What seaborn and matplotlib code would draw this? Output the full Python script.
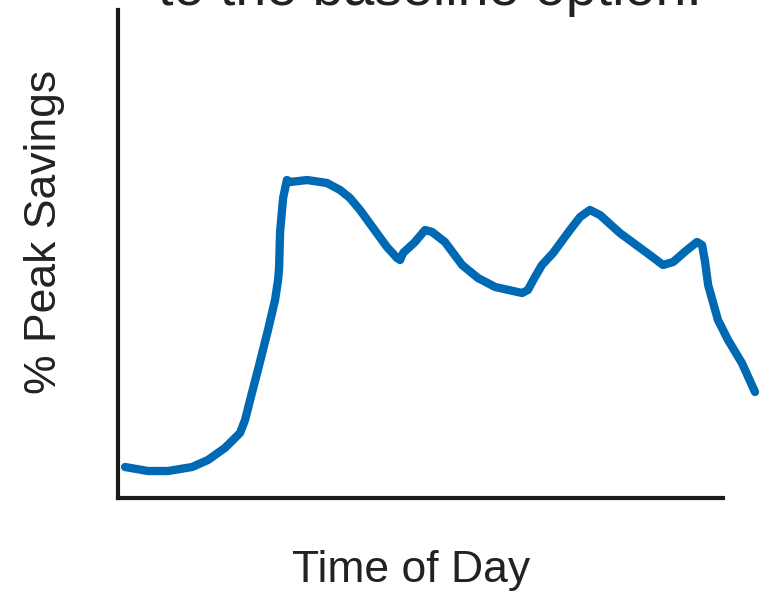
import matplotlib
matplotlib.use("Agg")
import matplotlib.pyplot as plt
import seaborn as sns
import pandas as pd

# Time of day (hours) and % peak savings
hours = [0.28, 1.19, 1.98, 2.94, 3.57, 4.24, 4.84, 5.04, 5.24, 5.55, 5.95, 6.23,
         6.35, 6.39, 6.43, 6.55, 6.70, 6.82, 7.50, 8.29, 8.81, 9.20, 9.60, 10.12,
         10.67, 11.07, 11.19, 11.31, 11.78, 12.18, 12.46, 12.97, 13.65, 14.28,
         14.96, 16.03, 16.26, 16.54, 16.82, 17.26, 17.93, 18.33, 18.72, 19.12,
         19.91, 20.99, 21.62, 22.02, 22.57, 22.97, 23.17, 23.29, 23.41, 23.80,
         24.20, 24.75, 25.27]
savings = [6.35, 5.53, 5.53, 6.35, 7.79, 10.25, 13.32, 15.98, 20.08, 26.23, 34.43,
           40.57, 44.67, 47.13, 54.51, 61.48, 65.16, 64.75, 65.16, 64.55, 63.11,
           61.48, 59.02, 55.33, 51.43, 49.18, 48.77, 50.20, 52.46, 54.92, 54.51,
           52.46, 47.75, 45.08, 43.24, 42.01, 42.62, 45.29, 47.75, 50.20, 54.92,
           57.58, 59.02, 57.99, 54.30, 50.20, 47.75, 48.36, 50.82, 52.46, 51.84,
           48.36, 43.65, 36.48, 32.38, 27.66, 21.72]

title_text = "to the baseline option."
x_label = "Time of Day"
y_label = "% Peak Savings"

df = pd.DataFrame({"hour": hours, "savings": savings})

sns.set_style("white")
plt.rcParams["font.family"] = ["Liberation Sans", "DejaVu Sans"]

fig = plt.figure(figsize=(7.75, 5.93), dpi=100)
ax = fig.add_axes([118 / 775, 1 - 498 / 593, 605 / 775, 488 / 593])

sns.lineplot(data=df, x="hour", y="savings", ax=ax, color="#0069b4",
             linewidth=6, sort=False, clip_on=False,
             solid_capstyle="round", solid_joinstyle="round")

ax.set_xlim(0, 24)
ax.set_ylim(0, 100)
ax.set_xticks([])
ax.set_yticks([])
for s in ["top", "right"]:
    ax.spines[s].set_visible(False)
for s in ["left", "bottom"]:
    ax.spines[s].set_linewidth(3)
    ax.spines[s].set_color("#1a1a1a")

ax.set_xlabel(x_label, fontsize=32, color="#222222")
ax.set_ylabel(y_label, fontsize=32, color="#222222")
ax.xaxis.set_label_coords((411 - 118) / 605, -0.148)
ax.yaxis.set_label_coords(-(118 - 45) / 605, (498 - 232) / 488)
ax.xaxis.label.set_va("center")
ax.yaxis.label.set_va("center")

fig.text(430 / 775, 1 - 5 / 593, title_text, fontsize=40, color="#222222",
         ha="center", va="baseline")

fig.savefig("out.png", dpi=100)
